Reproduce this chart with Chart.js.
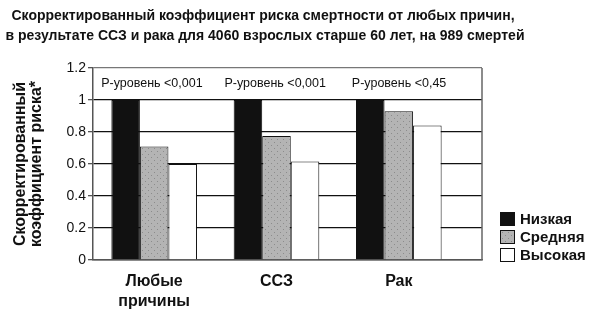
<!DOCTYPE html>
<html>
<head>
<meta charset="utf-8">
<script src="https://cdn.jsdelivr.net/npm/chart.js@4.4.1/dist/chart.umd.min.js"></script>
<style>
  html, body { margin: 0; padding: 0; background: #fff; }
  #wrap { width: 602px; height: 310px; }
</style>
</head>
<body>
<div id="wrap"><canvas id="riskChart" width="602" height="310"></canvas></div>
<script>
const categories = [["Любые", "причины"], "ССЗ", "Рак"];
const seriesNames = ["Низкая", "Средняя", "Высокая"];
const lowValues = [1.0, 1.0, 1.0];
const midValues = [0.71, 0.775, 0.93];
const highValues = [0.6, 0.615, 0.84];
const pLabels = ["Р-уровень <0,001", "Р-уровень <0,001", "Р-уровень <0,45"];
const titleLines = [
    "Скорректированный коэффициент риска смертности от любых причин,",
    "в результате ССЗ и рака для 4060 взрослых старше 60 лет, на 989 смертей"
];
const yTitle = ["Скорректированный", "коэффициент риска*"];

const FONT = "'Liberation Sans', Arial, sans-serif";

// dotted gray fill like the original
function dotPattern() {
    const c = document.createElement("canvas");
    c.width = 6; c.height = 6;
    const g = c.getContext("2d");
    g.fillStyle = "#b4b4b4";
    g.fillRect(0, 0, 6, 6);
    g.fillStyle = "#8c8c8c";
    g.fillRect(1, 1, 1, 1);
    g.fillRect(4, 4, 1, 1);
    return g.createPattern(c, "repeat");
}
const grayFill = dotPattern();

// category index as x so the plot can run a little past the last group
const toPoints = arr => arr.map((v, i) => ({ x: i, y: v }));

const extras = {
    id: "extras",
    afterDatasetsDraw(chart) {
        const { ctx, chartArea, scales } = chart;
        ctx.save();
        // right border of plot
        ctx.strokeStyle = "#666";
        ctx.lineWidth = 1.5;
        ctx.beginPath();
        ctx.moveTo(chartArea.right, chartArea.top);
        ctx.lineTo(chartArea.right, chartArea.bottom);
        ctx.stroke();

        // p-level notes, left aligned a bit before each group
        const shift = [-53, -52, -47];
        ctx.fillStyle = "#111";
        ctx.font = "12.5px " + FONT;
        ctx.textBaseline = "middle";
        ctx.textAlign = "left";
        pLabels.forEach((t, i) => {
            ctx.fillText(t, scales.x.getPixelForValue(i) + shift[i], scales.y.getPixelForValue(1.1));
        });
        ctx.restore();
    },
    afterDraw(chart) {
        const { ctx } = chart;
        ctx.save();
        ctx.fillStyle = "#111";
        ctx.font = "bold 14px " + FONT;
        ctx.textAlign = "center";
        ctx.textBaseline = "middle";
        ctx.fillText(titleLines[0], 263, 16);
        ctx.fillText(titleLines[1], 265, 36);

        // legend
        ctx.font = "bold 15px " + FONT;
        ctx.textAlign = "left";
        chart.data.datasets.forEach((ds, i) => {
            const y = 219 + i * 18;
            ctx.fillStyle = ds.backgroundColor;
            ctx.fillRect(500, y - 7, 15, 14);
            ctx.strokeStyle = "#111";
            ctx.lineWidth = 1;
            ctx.strokeRect(500.5, y - 6.5, 14, 13);
            ctx.fillStyle = "#111";
            ctx.fillText(ds.label, 520, y + 1);
        });
        ctx.restore();
    }
};

new Chart(document.getElementById("riskChart"), {
    type: "bar",
    data: {
        datasets: [
            { label: seriesNames[0], data: toPoints(lowValues), backgroundColor: "#111" },
            { label: seriesNames[1], data: toPoints(midValues), backgroundColor: grayFill },
            { label: seriesNames[2], data: toPoints(highValues), backgroundColor: "#fff" }
        ]
    },
    options: {
        responsive: false,
        animation: false,
        devicePixelRatio: 1,
        layout: { padding: { top: 68, right: 120, left: 0, bottom: 0 } },
        datasets: {
            bar: {
                categoryPercentage: 0.7,
                barPercentage: 1.0,
                borderColor: "#111",
                borderWidth: 1
            }
        },
        plugins: {
            legend: { display: false },
            tooltip: { enabled: false }
        },
        scales: {
            x: {
                type: "linear",
                min: -0.5,
                max: 2.68,
                offset: false,
                grid: { display: false, drawTicks: false, tickLength: 0 },
                border: { display: true, color: "#555", width: 1.5 },
                afterBuildTicks(s) { s.ticks = categories.map((c, i) => ({ value: i })); },
                ticks: {
                    color: "#111",
                    padding: 12,
                    maxRotation: 0,
                    autoSkip: false,
                    font: { family: FONT, size: 16, weight: "bold", lineHeight: 1.25 },
                    callback: v => categories[v]
                },
                afterFit(s) { s.height = 50; }
            },
            y: {
                min: 0,
                max: 1.2,
                ticks: {
                    stepSize: 0.2,
                    color: "#111",
                    padding: 2,
                    font: { family: FONT, size: 14 },
                    callback: v => String(+v.toFixed(1))
                },
                grid: {
                    color: c => (c.tick && c.tick.value > 1.1 ? "#777" : "#111"),
                    lineWidth: 1.3,
                    tickLength: 5,
                    tickColor: "#555"
                },
                border: { display: true, color: "#555", width: 1.5 },
                title: {
                    display: true,
                    text: yTitle,
                    color: "#111",
                    padding: { top: 13, bottom: 4 },
                    font: { family: FONT, size: 16, weight: "bold", lineHeight: 1.0 }
                },
                afterFit(s) { s.width = 93; }
            }
        }
    },
    plugins: [extras]
});
</script>
</body>
</html>
